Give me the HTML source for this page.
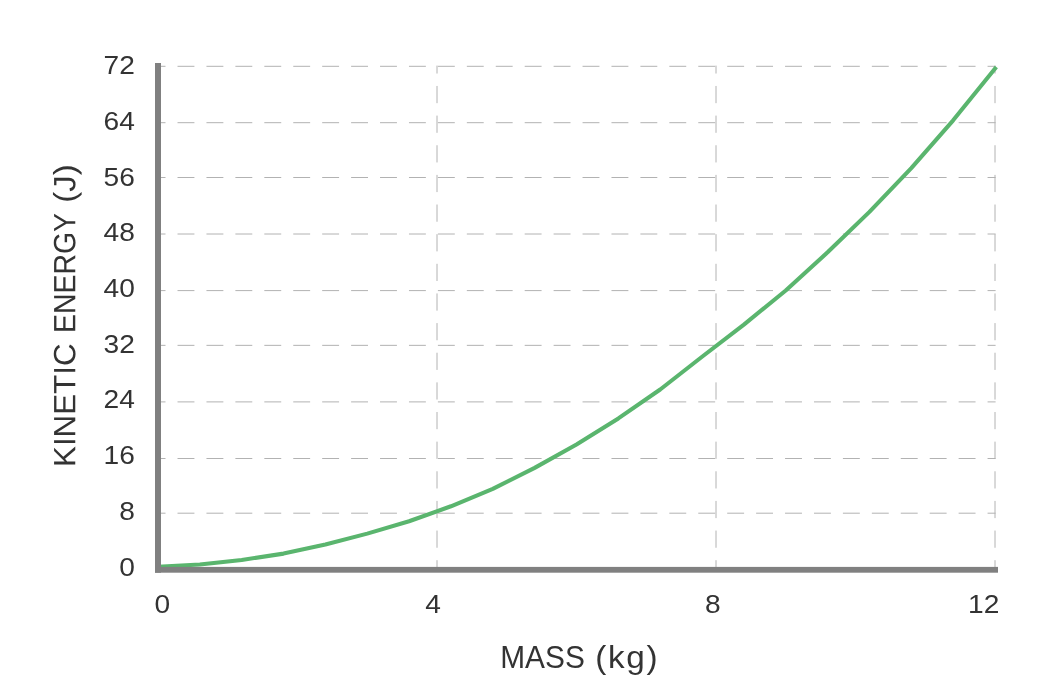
<!DOCTYPE html>
<html><head><meta charset="utf-8"><title>Kinetic energy vs mass</title>
<style>
html,body{margin:0;padding:0;background:#fff;}
body{width:1050px;height:696px;overflow:hidden;}
svg{display:block;will-change:transform;}
text{font-family:"Liberation Sans",sans-serif;fill:#333333;}
</style></head>
<body>
<svg width="1050" height="696" viewBox="0 0 1050 696">
<rect width="1050" height="696" fill="#ffffff"/>
<!-- dashed grid -->
<g fill="none" stroke="#b2b2b2" stroke-width="1">
<line x1="158" y1="66.30" x2="995.6" y2="66.30" stroke-dasharray="16.9 12.03" stroke-dashoffset="9.4"/>
<line x1="158" y1="122.70" x2="995.6" y2="122.70" stroke-dasharray="16.9 12.03" stroke-dashoffset="9.4"/>
<line x1="158" y1="177.50" x2="995.6" y2="177.50" stroke-dasharray="16.9 12.03" stroke-dashoffset="9.4"/>
<line x1="158" y1="234.00" x2="995.6" y2="234.00" stroke-dasharray="16.9 12.03" stroke-dashoffset="9.4"/>
<line x1="158" y1="290.60" x2="995.6" y2="290.60" stroke-dasharray="16.9 12.03" stroke-dashoffset="9.4"/>
<line x1="158" y1="345.35" x2="995.6" y2="345.35" stroke-dasharray="16.9 12.03" stroke-dashoffset="9.4"/>
<line x1="158" y1="401.90" x2="995.6" y2="401.90" stroke-dasharray="16.9 12.03" stroke-dashoffset="9.4"/>
<line x1="158" y1="458.50" x2="995.6" y2="458.50" stroke-dasharray="16.9 12.03" stroke-dashoffset="9.4"/>
<line x1="158" y1="513.20" x2="995.6" y2="513.20" stroke-dasharray="16.9 12.03" stroke-dashoffset="9.4"/>
<line x1="437.00" y1="570" x2="437.00" y2="65.6" stroke-dasharray="17.2 12.44" stroke-dashoffset="7.4"/>
<line x1="716.00" y1="570" x2="716.00" y2="65.6" stroke-dasharray="17.2 12.44" stroke-dashoffset="7.4"/>
<line x1="995.00" y1="570" x2="995.00" y2="65.6" stroke-dasharray="17.2 12.44" stroke-dashoffset="7.4"/>
</g>
<!-- data curve -->
<path d="M158.00,566.70 L199.85,564.44 L241.70,559.97 L283.55,553.60 L325.40,544.57 L367.25,533.64 L409.10,521.30 L450.95,506.30 L492.80,488.80 L534.65,467.89 L576.50,444.48 L618.35,418.40 L660.20,389.50 L702.05,356.76 L743.90,324.60 L785.75,290.50 L827.60,252.30 L869.45,211.90 L911.30,168.20 L953.15,120.30 L996.30,67.00" fill="none" stroke="#5ab56e" stroke-width="4.1" stroke-linejoin="round"/>
<!-- axes -->
<rect x="155" y="63" width="6" height="509.7" fill="#808080"/>
<rect x="155" y="566.9" width="843" height="5.8" fill="#808080"/>
<!-- labels -->
<text transform="translate(134.80,74.05) scale(1.0700,1.0000)" font-size="26.3" text-anchor="end">72</text>
<text transform="translate(134.80,129.78) scale(1.0700,1.0000)" font-size="26.3" text-anchor="end">64</text>
<text transform="translate(134.80,185.51) scale(1.0700,1.0000)" font-size="26.3" text-anchor="end">56</text>
<text transform="translate(134.80,241.24) scale(1.0700,1.0000)" font-size="26.3" text-anchor="end">48</text>
<text transform="translate(134.80,296.97) scale(1.0700,1.0000)" font-size="26.3" text-anchor="end">40</text>
<text transform="translate(134.80,352.70) scale(1.0700,1.0000)" font-size="26.3" text-anchor="end">32</text>
<text transform="translate(134.80,408.43) scale(1.0700,1.0000)" font-size="26.3" text-anchor="end">24</text>
<text transform="translate(134.80,464.16) scale(1.0700,1.0000)" font-size="26.3" text-anchor="end">16</text>
<text transform="translate(134.80,519.89) scale(1.0700,1.0000)" font-size="26.3" text-anchor="end">8</text>
<text transform="translate(134.80,575.62) scale(1.0700,1.0000)" font-size="26.3" text-anchor="end">0</text>
<text transform="translate(154.60,613.30) scale(1.0700,1.0000)" font-size="26.3" text-anchor="start">0</text>
<text transform="translate(433.10,613.30) scale(1.0700,1.0000)" font-size="26.3" text-anchor="middle">4</text>
<text transform="translate(712.70,613.30) scale(1.0700,1.0000)" font-size="26.3" text-anchor="middle">8</text>
<text transform="translate(999.40,613.30) scale(1.0700,1.0000)" font-size="26.3" text-anchor="end">12</text>
<text transform="translate(500.20,667.70) scale(0.9515,1.0000)" font-size="31.4" text-anchor="start">MASS</text>
<text transform="translate(595.20,667.70) scale(1.0615,1.0000)" font-size="31.4" text-anchor="start" letter-spacing="1.61">(kg)</text>
<text transform="translate(75.20,467.00) rotate(-89.97) scale(1.0439,1.0267)" font-size="30.0" text-anchor="start">KINETIC</text>
<text transform="translate(75.20,333.00) rotate(-89.97) scale(0.9473,1.0267)" font-size="30.0" text-anchor="start">ENERGY</text>
<text transform="translate(75.20,202.70) rotate(-89.97) scale(1.0951,1.0267)" font-size="30.0" text-anchor="start">(J)</text>
</svg>
</body></html>
